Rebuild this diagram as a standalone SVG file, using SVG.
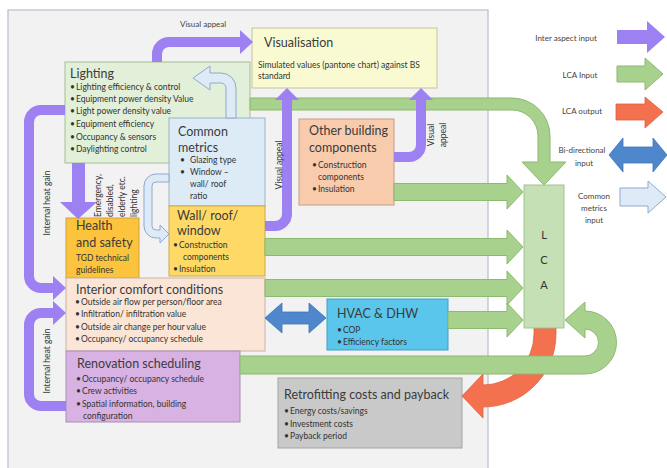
<svg xmlns="http://www.w3.org/2000/svg" width="667" height="468" viewBox="0 0 667 468">
<style>
text{font-family:Lato,"Open Sans","Liberation Sans",sans-serif;fill:#333}
.t{font-size:12.5px;fill:#3b3b3b}
.b{font-size:8.5px}
.s{font-size:8px;fill:#444}
.box{stroke-width:1}
.pu{fill:none;stroke:#9d80f2;stroke-width:10}
.puh{fill:#9d80f2}
.gr{fill:#a9d18e;stroke:#8db970;stroke-width:1}
.rd{fill:#f4714f;stroke:#e0603f;stroke-width:0.8}
.bl{fill:#4f87cd;stroke:#3f74b8;stroke-width:0.8}
.lb{fill:#deebf7;stroke:#8fa9cf;stroke-width:1}
.rot{font-size:8.5px}
</style>
<rect x="0" y="0" width="667" height="468" fill="#ffffff"/>
<rect x="8" y="10" width="480" height="470" fill="#f2f2f2" stroke="#b3bfcf" stroke-width="1.2"/>

<g id="lighting">
<rect class="box" x="65" y="62" width="185" height="101" fill="#e2efd9" stroke="#a7be96"/>
<text class="t" x="70" y="78">Lighting</text>
<text class="b"><tspan x="70" y="90">•</tspan><tspan x="76" y="90">Lighting efficiency &amp; control</tspan></text>
<text class="b"><tspan x="70" y="102">•</tspan><tspan x="76" y="102">Equipment power density Value</tspan></text>
<text class="b"><tspan x="70" y="114">•</tspan><tspan x="76" y="114">Light power density value</tspan></text>
<text class="b"><tspan x="70" y="127">•</tspan><tspan x="76" y="127">Equipment efficiency</tspan></text>
<text class="b"><tspan x="70" y="140">•</tspan><tspan x="76" y="140">Occupancy &amp; sensors</tspan></text>
<text class="b"><tspan x="70" y="152">•</tspan><tspan x="76" y="152">Daylighting control</tspan></text>
</g>

<g id="visualisation">
<rect class="box" x="252" y="28" width="185" height="60" fill="#fafad2" stroke="#c3c39c"/>
<text class="t" x="264" y="47">Visualisation</text>
<text class="b" x="258" y="68">Simulated values (pantone chart) against BS</text>
<text class="b" x="258" y="79">standard</text>
</g>

<g id="common-metrics">
<rect class="box" x="169" y="118" width="96" height="88" fill="#ddebf7" stroke="#9eb2c9"/>
<text class="t" x="178" y="136">Common</text>
<text class="t" x="178" y="152">metrics</text>
<text class="b"><tspan x="180" y="163">•</tspan><tspan x="190" y="163">Glazing type</tspan></text>
<text class="b"><tspan x="180" y="175">•</tspan><tspan x="190" y="175">Window –</tspan></text>
<text class="b" x="190" y="187">wall/ roof</text>
<text class="b" x="190" y="199">ratio</text>
</g>

<g id="wall-roof-window">
<rect class="box" x="169" y="206" width="96" height="70" fill="#ffd966" stroke="#c9a84a"/>
<text class="t" x="177" y="220">Wall/ roof/</text>
<text class="t" x="177" y="235">window</text>
<text class="b"><tspan x="173" y="248">•</tspan><tspan x="179" y="248">Construction</tspan></text>
<text class="b" x="183" y="260">components</text>
<text class="b"><tspan x="173" y="272">•</tspan><tspan x="179" y="272">Insulation</tspan></text>
</g>

<g id="health-safety">
<rect class="box" x="66" y="218" width="73" height="60" fill="#fcc43d" stroke="#d1a03a"/>
<text class="t" x="76" y="230">Health</text>
<text class="t" x="76" y="247">and safety</text>
<text class="b" x="76" y="261">TGD technical</text>
<text class="b" x="76" y="273">guidelines</text>
</g>

<g id="interior-comfort">
<rect class="box" x="66" y="278" width="199" height="73" fill="#fbe5d6" stroke="#c9b3a6"/>
<text class="t" x="76" y="294">Interior comfort conditions</text>
<text class="b"><tspan x="75" y="305">•</tspan><tspan x="81" y="305">Outside air flow per person/floor area</tspan></text>
<text class="b"><tspan x="75" y="317">•</tspan><tspan x="81" y="317">Infiltration/ infiltration value</tspan></text>
<text class="b"><tspan x="75" y="330">•</tspan><tspan x="81" y="330">Outside air change per hour value</tspan></text>
<text class="b"><tspan x="75" y="342">•</tspan><tspan x="81" y="342">Occupancy/ occupancy schedule</tspan></text>
</g>

<g id="renovation-scheduling">
<rect class="box" x="66" y="351" width="174" height="71" fill="#d8b2e3" stroke="#a98cb3"/>
<text class="t" x="77" y="368">Renovation scheduling</text>
<text class="b"><tspan x="76" y="382">•</tspan><tspan x="82" y="382">Occupancy/ occupancy schedule</tspan></text>
<text class="b"><tspan x="76" y="394">•</tspan><tspan x="82" y="394">Crew activities</tspan></text>
<text class="b"><tspan x="76" y="407">•</tspan><tspan x="82" y="407">Spatial information, building</tspan></text>
<text class="b" x="83" y="419">configuration</text>
</g>

<g id="other-building">
<rect class="box" x="299" y="119" width="95" height="86" fill="#f8cbad" stroke="#c39c84"/>
<text class="t" x="309" y="135">Other building</text>
<text class="t" x="309" y="152">components</text>
<text class="b"><tspan x="312" y="168">•</tspan><tspan x="318" y="168">Construction</tspan></text>
<text class="b" x="318" y="180">components</text>
<text class="b"><tspan x="312" y="192">•</tspan><tspan x="318" y="192">Insulation</tspan></text>
</g>

<g id="hvac-dhw">
<rect class="box" x="327" y="299" width="121" height="51" fill="#5bc6ec" stroke="#3f9fc4"/>
<text class="t" x="337" y="318">HVAC &amp; DHW</text>
<text class="b"><tspan x="337" y="333">•</tspan><tspan x="343" y="333">COP</tspan></text>
<text class="b"><tspan x="337" y="345">•</tspan><tspan x="343" y="345">Efficiency factors</tspan></text>
</g>

<g id="retrofitting">
<rect class="box" x="278" y="378" width="184" height="70" fill="#c9c9c9" stroke="#a3a3a3"/>
<text class="t" x="284" y="399">Retrofitting costs and payback</text>
<text class="b"><tspan x="284" y="414">•</tspan><tspan x="290" y="414">Energy costs/savings</tspan></text>
<text class="b"><tspan x="284" y="427">•</tspan><tspan x="290" y="427">Investment costs</tspan></text>
<text class="b"><tspan x="284" y="439">•</tspan><tspan x="290" y="439">Payback period</tspan></text>
</g>

<g id="connectors">
<path class="rd" d="M534,328 H556 V334 A73,73 0 0 1 483,407 V418 L462,396 L483,374 V385 A51,51 0 0 0 534,334 Z"/>
<path class="gr" d="M250,98 H512 A38,38 0 0 1 550,136 V162 H566 L544,185 L522,162 H538 V136 A26,26 0 0 0 512,110 H250 Z"/>
<path class="gr" d="M394,183.5 H507 V175 L523,192 L507,209 V200.5 H394 Z"/>
<path class="gr" d="M265,238.5 H507 V230 L523,247 L507,264 V255.5 H265 Z"/>
<path class="gr" d="M265,279.5 H507 V271 L523,288 L507,305 V296.5 H265 Z"/>
<path class="gr" d="M448,311.5 H507 V303 L523,320 L507,337 V328.5 H448 Z"/>
<path class="gr" d="M240,356 H585 A13.5,13.5 0 0 0 598.5,342.5 A13.5,13.5 0 0 0 585,329 V338 L565,320 L585,302 V311 A31.5,31.5 0 0 1 616.5,342.5 A31.5,31.5 0 0 1 585,374 H240 Z"/>
<path class="bl" d="M265,318 L282,303 V312 H309 V303 L326,318 L309,333 V324 H282 V333 Z"/>
<path class="lb" d="M226,118 V88 A5,5 0 0 0 221,83 H210 V90 L193,78 L210,66 V73 H221 A15,15 0 0 1 236,88 V118 Z"/>
<path class="lb" d="M169,174 H156 A12,12 0 0 0 144,186 V226 A12,12 0 0 0 156,238 H160 V243 L169,234 L160,225 V230 H156 A4,4 0 0 1 152,226 V186 A4,4 0 0 1 156,182 H169 Z"/>
<path class="pu" d="M157,62 V54 A12,12 0 0 1 169,42 H241"/>
<path class="puh" d="M240,30 L253,42 L240,54 Z"/>
<path class="pu" d="M65,110 H41 A12,12 0 0 0 29,122 V276 A12,12 0 0 0 41,288 H54"/>
<path class="puh" d="M53,276 L66,288 L53,300 Z"/>
<path class="pu" d="M66,406 H41 A12,12 0 0 1 29,394 V325 A12,12 0 0 1 41,313 H54"/>
<path class="puh" d="M53,301 L66,313 L53,325 Z"/>
<path class="puh" d="M72,163 H85 V202 H97 L78,219 L60,202 H72 Z"/>
<path class="pu" d="M265,226 H275 A12,12 0 0 0 287,214 V99"/>
<path class="puh" d="M275,100 L287,88 L299,100 Z"/>
<path class="pu" d="M394,157 H409 A12,12 0 0 0 421,145 V99"/>
<path class="puh" d="M409,100 L421,88 L433,100 Z"/>
<text class="s" x="180" y="27" font-size="8.6">Visual appeal</text>
<text class="rot" transform="translate(50,203) rotate(-90)" text-anchor="middle">Internal heat gain</text>
<text class="rot" transform="translate(50,361) rotate(-90)" text-anchor="middle">Internal heat gain</text>
<text class="rot" transform="translate(101,217) rotate(-90)">Emergency,</text>
<text class="rot" transform="translate(113,217) rotate(-90)">disabled,</text>
<text class="rot" transform="translate(125,217) rotate(-90)">elderly etc.</text>
<text class="rot" transform="translate(137,217) rotate(-90)">lighting</text>
<text class="rot" transform="translate(282,165) rotate(-90)" text-anchor="middle">Visual appeal</text>
<text class="rot" transform="translate(434,135) rotate(-90)" text-anchor="middle">Visual</text>
<text class="rot" transform="translate(446,135) rotate(-90)" text-anchor="middle">appeal</text>
</g>

<g id="lca">
<rect x="524" y="185" width="40" height="143" fill="#c5e0b4" stroke="#a3c28f" stroke-width="1"/>
<text x="544" y="239" text-anchor="middle" font-size="11">L</text>
<text x="544" y="264" text-anchor="middle" font-size="11">C</text>
<text x="544" y="289" text-anchor="middle" font-size="11">A</text>
</g>

<g id="legend">
<text class="s" x="566" y="41" text-anchor="middle">Inter aspect input</text>
<path class="puh" d="M617,30 H647 V21 L665,37 L647,53 V44 H617 Z"/>
<text class="s" x="580" y="78" text-anchor="middle">LCA Input</text>
<path class="gr" d="M617,66 H645 V58 L663,74 L645,90 V82 H617 Z"/>
<text class="s" x="582" y="114" text-anchor="middle">LCA output</text>
<path class="rd" d="M616,104 H645 V97 L663,112 L645,128 V120 H616 Z"/>
<text class="s" x="582" y="153" text-anchor="middle">Bi-directional</text>
<text class="s" x="584" y="166" text-anchor="middle">input</text>
<path class="bl" d="M609,155 L623,138 V147 H653 V138 L667,155 L653,172 V163 H623 V172 Z"/>
<text class="s" x="594" y="199" text-anchor="middle">Common</text>
<text class="s" x="594" y="211" text-anchor="middle">metrics</text>
<text class="s" x="594" y="223" text-anchor="middle">input</text>
<path class="lb" d="M620,188 H648 V181 L666,197 L648,213 V206 H620 Z"/>
</g>
</svg>
